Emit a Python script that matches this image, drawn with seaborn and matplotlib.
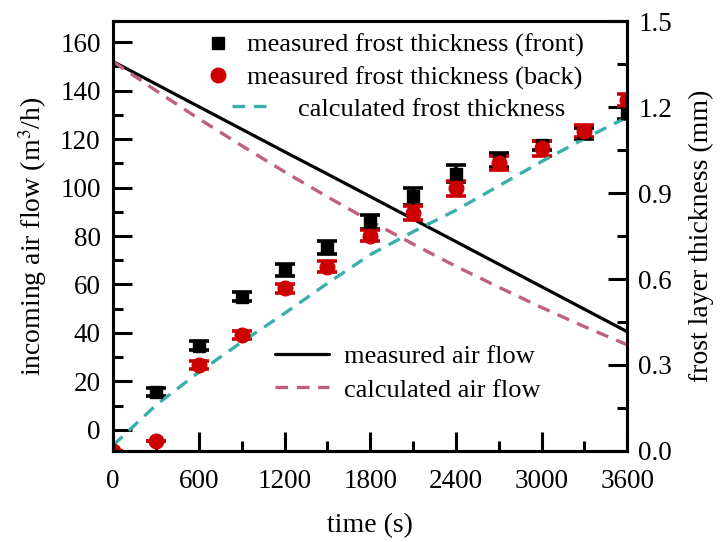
import numpy as np
import matplotlib
matplotlib.use("Agg")
import matplotlib.pyplot as plt
import seaborn as sns
from matplotlib.ticker import MultipleLocator
from matplotlib.lines import Line2D

# air flow (left axis)
t_flow = [0, 300, 600, 900, 1200, 1500, 1800, 2100, 2400, 2700, 3000, 3300, 3600]
flow_measured = [152.0, 142.7, 133.4, 124.1, 114.8, 105.6, 96.3, 87.0, 77.7, 68.4, 59.1, 49.8, 40.5]
flow_calc = [152.0, 140.0, 128.4, 117.3, 106.5, 96.2, 86.2, 76.7, 67.5, 58.9, 50.5, 42.6, 35.1]

# frost thickness (right axis)
t_calc = [0, 300, 600, 900, 1200, 1500, 1800, 2100, 2400, 2700, 3000, 3300, 3600]
frost_calc = [0.02, 0.16, 0.275, 0.38, 0.48, 0.585, 0.685, 0.765, 0.84, 0.925, 1.01, 1.09, 1.165]

t_front = [300, 600, 900, 1200, 1500, 1800, 2100, 2400, 2700, 3000, 3300, 3600]
frost_front = [0.205, 0.367, 0.539, 0.631, 0.71, 0.80, 0.889, 0.968, 1.015, 1.067, 1.108, 1.18]
err_front = [0.013, 0.015, 0.015, 0.02, 0.022, 0.025, 0.03, 0.03, 0.025, 0.015, 0.02, 0.02]

t_back = [0, 300, 600, 900, 1200, 1500, 1800, 2100, 2400, 2700, 3000, 3300, 3600]
frost_back = [0.0, 0.035, 0.30, 0.405, 0.567, 0.643, 0.751, 0.831, 0.916, 1.005, 1.056, 1.117, 1.224]
err_back = [0.0, 0.0, 0.015, 0.015, 0.015, 0.02, 0.02, 0.025, 0.025, 0.025, 0.025, 0.02, 0.02]

sns.set_style("ticks")
plt.rcParams['font.family'] = ['Liberation Serif', 'DejaVu Serif']
plt.rcParams['mathtext.fontset'] = 'stix'
plt.rcParams['axes.edgecolor'] = 'black'
plt.rcParams['axes.labelcolor'] = 'black'
plt.rcParams['xtick.color'] = 'black'
plt.rcParams['ytick.color'] = 'black'
plt.rcParams['text.color'] = 'black'

fig = plt.figure(figsize=(7.21, 5.42), dpi=100)
ax = fig.add_axes([0.157, 0.168, 0.713, 0.793])
ax2 = ax.twinx()

teal = "#3aafa9"
mauve = "#c0607f"
red = "#cc0000"
dash = (3.8, 2.6)

sns.lineplot(x=t_flow, y=flow_measured, ax=ax, color="black", lw=2.3, legend=False)
sns.lineplot(x=t_flow, y=flow_calc, ax=ax, color=mauve, lw=2.4, legend=False)
ax.lines[1].set_dashes(dash)

ax2.errorbar(t_front, frost_front, yerr=err_front, fmt="s", color="black",
             ms=9, capsize=7.5, capthick=2.6, elinewidth=2.6)
ax2.errorbar(t_back, frost_back, yerr=err_back, fmt="o", color=red,
             ms=10.5, capsize=7.5, capthick=2.6, elinewidth=2.6)
sns.lineplot(x=t_calc, y=frost_calc, ax=ax2, color=teal, lw=2.4, legend=False)
ax2.lines[-1].set_dashes(dash)

ax.set_xlim(0, 3600)
ax.set_ylim(-8.7, 168.7)
ax2.set_ylim(0, 1.5)

ax.xaxis.set_major_locator(MultipleLocator(600))
ax.xaxis.set_minor_locator(MultipleLocator(300))
ax.yaxis.set_major_locator(MultipleLocator(20))
ax.yaxis.set_minor_locator(MultipleLocator(10))
ax2.yaxis.set_major_locator(MultipleLocator(0.3))
ax2.yaxis.set_minor_locator(MultipleLocator(0.15))
ax2.yaxis.set_major_formatter(plt.FormatStrFormatter('%.1f'))

ax.tick_params(axis="both", which="major", direction="in", length=14, width=2.2,
               labelsize=19.5, pad=9)
ax.tick_params(axis="both", which="minor", direction="in", length=7, width=2.2)
ax.tick_params(axis="x", pad=13)
ax.tick_params(right=False, top=False, which="both")
ax2.tick_params(axis="y", which="major", direction="in", length=14, width=2.2,
                labelsize=19.5, pad=8)
ax2.tick_params(axis="y", which="minor", direction="in", length=7, width=2.2)

for a in (ax, ax2):
    for s in a.spines.values():
        s.set_linewidth(2.2)
        s.set_color("black")
        s.set_visible(True)

ax.set_xlabel("time (s)", fontsize=20, labelpad=14)
ax.set_ylabel("incoming air flow (m$^3$/h)", fontsize=20, labelpad=8)
ax2.set_ylabel("frost layer thickness (mm)", fontsize=20, labelpad=12)

# legends
fs = 19
h_front = Line2D([], [], marker="s", color="black", ls="none", ms=9)
h_back = Line2D([], [], marker="o", color=red, ls="none", ms=10.5)
h_cfrost = Line2D([], [], color=teal, lw=2.4, dashes=dash)
h_mflow = Line2D([], [], color="black", lw=2.3)
h_cflow = Line2D([], [], color=mauve, lw=2.4, dashes=dash)

leg1 = ax2.legend([h_front, h_back],
                  ["measured frost thickness (front)", "measured frost thickness (back)"],
                  loc="upper left", bbox_to_anchor=(0.179, 0.971), frameon=False,
                  fontsize=fs, handlelength=1.0, handletextpad=0.6,
                  labelspacing=0.31, borderpad=0, borderaxespad=0)
leg3 = ax2.legend([h_cfrost], ["calculated frost thickness"],
                  loc="upper left", bbox_to_anchor=(0.2315, 0.823), frameon=False,
                  fontsize=fs, handlelength=1.5, handletextpad=0.98,
                  borderpad=0, borderaxespad=0)
ax2.add_artist(leg1)
leg2 = ax.legend([h_mflow, h_cflow], ["measured air flow", "calculated air flow"],
                 loc="upper left", bbox_to_anchor=(0.3152, 0.248), frameon=False,
                 fontsize=fs, handlelength=2.05, handletextpad=0.57,
                 labelspacing=0.39, borderpad=0, borderaxespad=0)

fig.savefig("out.png", dpi=100)
